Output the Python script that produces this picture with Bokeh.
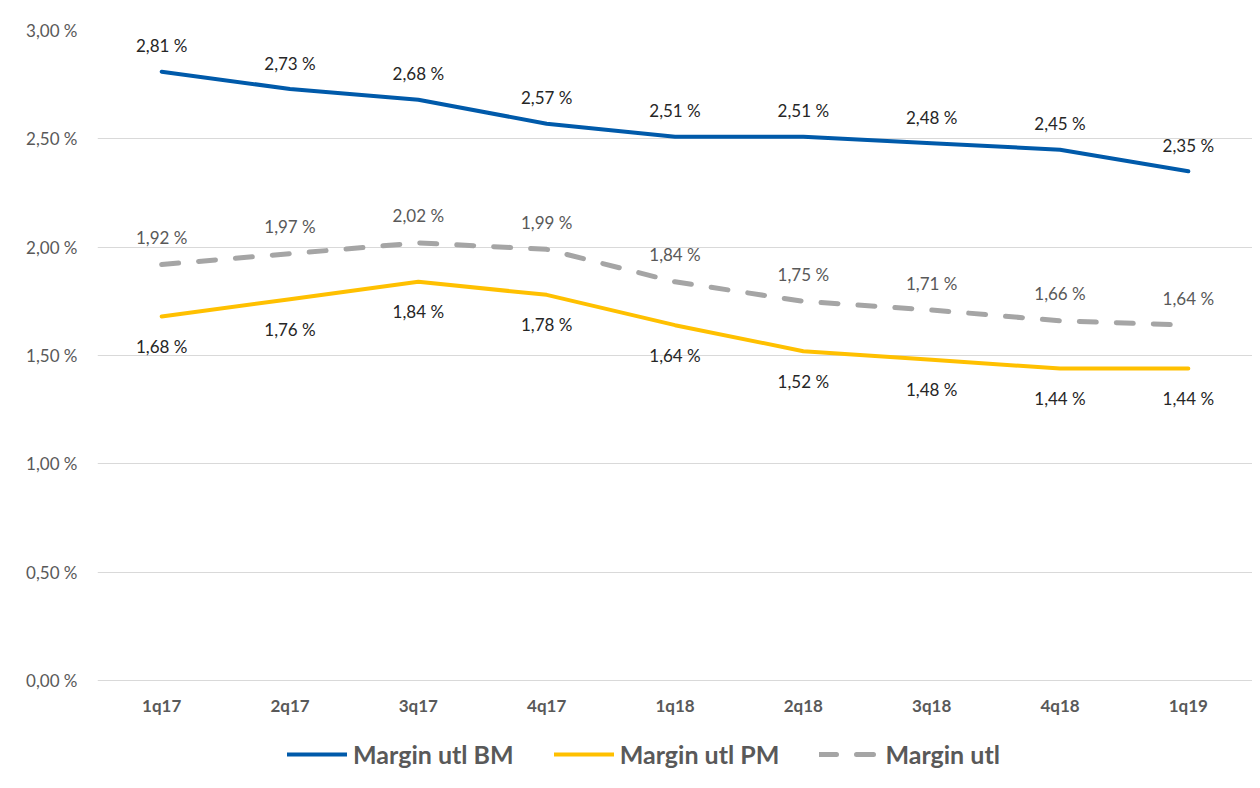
from bokeh.plotting import figure
from bokeh.models import ColumnDataSource, Legend, LegendItem, FixedTicker, CustomJSTickFormatter, Range1d
from bokeh.embed import file_html
from bokeh.resources import INLINE
from bokeh.core.properties import value

quarters = ["1q17", "2q17", "3q17", "4q17", "1q18", "2q18", "3q18", "4q18", "1q19"]
margin_bm = [2.81, 2.73, 2.68, 2.57, 2.51, 2.51, 2.48, 2.45, 2.35]
margin_pm = [1.68, 1.76, 1.84, 1.78, 1.64, 1.52, 1.48, 1.44, 1.44]
margin_utl = [1.92, 1.97, 2.02, 1.99, 1.84, 1.75, 1.71, 1.66, 1.64]
y_ticks = [0.0, 0.5, 1.0, 1.5, 2.0, 2.5, 3.0]


def fmt(v):
    return ("%.2f" % v).replace(".", ",") + " %"


FONT = "Lato"
src = ColumnDataSource(dict(
    q=quarters, bm=margin_bm, pm=margin_pm, utl=margin_utl,
    bm_t=[fmt(v) for v in margin_bm],
    pm_t=[fmt(v) for v in margin_pm],
    utl_t=[fmt(v) for v in margin_utl],
))

# the frame spans the plot area plus the legend strip below it; 0 % sits 92 px above the frame bottom
Y_MIN = -3.0 * 92 / 650
p = figure(x_range=quarters, y_range=Range1d(Y_MIN, 3.0), width=1252, height=772,
           output_backend="svg", toolbar_location=None,
           min_border_left=97, min_border_right=0, min_border_top=30, min_border_bottom=0)
p.outline_line_color = None
p.xgrid.grid_line_color = None
p.ygrid.grid_line_color = "#d9d9d9"
p.ygrid.grid_line_width = 1

p.yaxis.ticker = FixedTicker(ticks=y_ticks)
p.yaxis.formatter = CustomJSTickFormatter(code="return tick.toFixed(2).replace('.', ',') + ' %';")
for ax in (p.xaxis[0], p.yaxis[0]):
    ax.axis_line_color = None
    ax.major_tick_line_color = None
    ax.minor_tick_line_color = None
    ax.major_label_text_color = "#595959"
    ax.major_label_text_font = FONT
p.yaxis.major_label_text_font_size = "17px"
p.yaxis.major_label_standoff = 14
p.xaxis.major_label_text_font_size = "17px"
p.xaxis.major_label_text_font_style = "bold"
p.xaxis.major_label_standoff = 8
p.xaxis.fixed_location = 0

r_bm = p.line("q", "bm", source=src, line_color="#005AAA", line_width=4, line_cap="round", line_join="round")
r_pm = p.line("q", "pm", source=src, line_color="#FFC000", line_width=4, line_cap="round", line_join="round")
r_utl = p.line("q", "utl", source=src, line_color="#A5A5A5", line_width=5, line_dash="17 20", line_cap="round")

p.text("q", "bm", text="bm_t", source=src, text_align="center", text_baseline="middle", y_offset=-26,
       text_font=value(FONT), text_font_size="17px", text_color="#262626")
p.text("q", "utl", text="utl_t", source=src, text_align="center", text_baseline="middle", y_offset=-27,
       text_font=value(FONT), text_font_size="17px", text_color="#595959")
p.text("q", "pm", text="pm_t", source=src, text_align="center", text_baseline="middle", y_offset=30,
       text_font=value(FONT), text_font_size="17px", text_color="#262626")

legend = Legend(items=[LegendItem(label="Margin utl BM", renderers=[r_bm]),
                       LegendItem(label="Margin utl PM", renderers=[r_pm]),
                       LegendItem(label="Margin utl", renderers=[r_utl])],
                orientation="horizontal", location=(190, 3),
                glyph_width=60, glyph_height=20, label_standoff=6, spacing=40,
                label_text_font=FONT, label_text_font_size="25px", label_text_font_style="bold",
                label_text_color="#595959", border_line_color=None, background_fill_alpha=0,
                margin=0, padding=4)
p.add_layout(legend, "center")

open("out.html", "w").write(file_html(p, INLINE))
